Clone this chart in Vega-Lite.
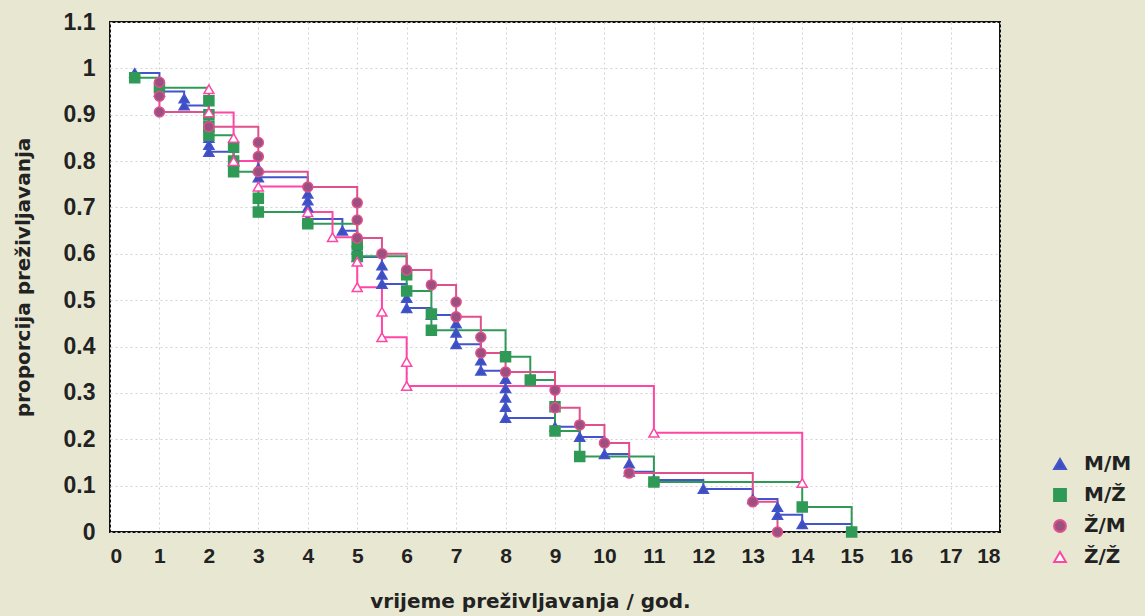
{
  "$schema": "https://vega.github.io/schema/vega-lite/v6.json",
  "width": 890,
  "height": 510,
  "autosize": "none",
  "padding": {"left": 110, "top": 22, "right": 145, "bottom": 84},
  "background": "#e8e8d2",
  "config": {
    "view": {"stroke": "#111111", "strokeWidth": 2, "fill": "#ffffff"},
    "font": "Liberation Sans",
    "axis": {
      "labelFont": "Liberation Sans",
      "labelFontWeight": "bold",
      "labelFontSize": 21,
      "labelColor": "#222222",
      "titleFont": "DejaVu Sans",
      "titleFontWeight": "bold",
      "titleFontSize": 20,
      "titleColor": "#222222",
      "domain": false,
      "ticks": false,
      "gridColor": "#d2d2d2",
      "gridDash": [2, 3],
      "gridWidth": 1
    },
    "legend": {
      "labelFont": "DejaVu Sans",
      "labelFontWeight": "bold",
      "labelFontSize": 20,
      "labelColor": "#222222"
    }
  },
  "data": {
    "values": [
      {"g": "M/M", "t": 0.5, "s": 0.99, "e": 1, "i": 1},
      {"g": "M/M", "t": 1, "s": 0.95, "e": 1, "i": 2},
      {"g": "M/M", "t": 1.5, "s": 0.935, "e": 1, "i": 3},
      {"g": "M/M", "t": 1.5, "s": 0.92, "e": 1, "i": 4},
      {"g": "M/M", "t": 2, "s": 0.85, "e": 1, "i": 5},
      {"g": "M/M", "t": 2, "s": 0.835, "e": 1, "i": 6},
      {"g": "M/M", "t": 2, "s": 0.82, "e": 1, "i": 7},
      {"g": "M/M", "t": 2.5, "s": 0.8, "e": 1, "i": 8},
      {"g": "M/M", "t": 3, "s": 0.785, "e": 1, "i": 9},
      {"g": "M/M", "t": 3, "s": 0.765, "e": 1, "i": 10},
      {"g": "M/M", "t": 4, "s": 0.73, "e": 1, "i": 11},
      {"g": "M/M", "t": 4, "s": 0.715, "e": 1, "i": 12},
      {"g": "M/M", "t": 4, "s": 0.7, "e": 1, "i": 13},
      {"g": "M/M", "t": 4, "s": 0.675, "e": 1, "i": 14},
      {"g": "M/M", "t": 4.7, "s": 0.65, "e": 1, "i": 15},
      {"g": "M/M", "t": 5, "s": 0.625, "e": 1, "i": 16},
      {"g": "M/M", "t": 5, "s": 0.61, "e": 1, "i": 17},
      {"g": "M/M", "t": 5, "s": 0.593, "e": 1, "i": 18},
      {"g": "M/M", "t": 5.5, "s": 0.575, "e": 1, "i": 19},
      {"g": "M/M", "t": 5.5, "s": 0.555, "e": 1, "i": 20},
      {"g": "M/M", "t": 5.5, "s": 0.535, "e": 1, "i": 21},
      {"g": "M/M", "t": 6, "s": 0.505, "e": 1, "i": 22},
      {"g": "M/M", "t": 6, "s": 0.483, "e": 1, "i": 23},
      {"g": "M/M", "t": 6.5, "s": 0.468, "e": 1, "i": 24},
      {"g": "M/M", "t": 7, "s": 0.45, "e": 1, "i": 25},
      {"g": "M/M", "t": 7, "s": 0.43, "e": 1, "i": 26},
      {"g": "M/M", "t": 7, "s": 0.405, "e": 1, "i": 27},
      {"g": "M/M", "t": 7.5, "s": 0.37, "e": 1, "i": 28},
      {"g": "M/M", "t": 7.5, "s": 0.348, "e": 1, "i": 29},
      {"g": "M/M", "t": 8, "s": 0.33, "e": 1, "i": 30},
      {"g": "M/M", "t": 8, "s": 0.31, "e": 1, "i": 31},
      {"g": "M/M", "t": 8, "s": 0.29, "e": 1, "i": 32},
      {"g": "M/M", "t": 8, "s": 0.27, "e": 1, "i": 33},
      {"g": "M/M", "t": 8, "s": 0.246, "e": 1, "i": 34},
      {"g": "M/M", "t": 9, "s": 0.227, "e": 1, "i": 35},
      {"g": "M/M", "t": 9.5, "s": 0.205, "e": 1, "i": 36},
      {"g": "M/M", "t": 10, "s": 0.168, "e": 1, "i": 37},
      {"g": "M/M", "t": 10.5, "s": 0.148, "e": 1, "i": 38},
      {"g": "M/M", "t": 10.5, "s": 0.13, "e": 1, "i": 39},
      {"g": "M/M", "t": 11, "s": 0.112, "e": 1, "i": 40},
      {"g": "M/M", "t": 12, "s": 0.093, "e": 1, "i": 41},
      {"g": "M/M", "t": 13, "s": 0.071, "e": 1, "i": 42},
      {"g": "M/M", "t": 13.5, "s": 0.054, "e": 1, "i": 43},
      {"g": "M/M", "t": 13.5, "s": 0.037, "e": 1, "i": 44},
      {"g": "M/M", "t": 14, "s": 0.017, "e": 1, "i": 45},
      {"g": "M/M", "t": 15, "s": 0.017, "e": 0, "i": 46},
      {"g": "M/Ž", "t": 0.5, "s": 0.98, "e": 1, "i": 101},
      {"g": "M/Ž", "t": 1, "s": 0.958, "e": 1, "i": 102},
      {"g": "M/Ž", "t": 2, "s": 0.93, "e": 1, "i": 103},
      {"g": "M/Ž", "t": 2, "s": 0.9, "e": 1, "i": 104},
      {"g": "M/Ž", "t": 2, "s": 0.875, "e": 1, "i": 105},
      {"g": "M/Ž", "t": 2, "s": 0.856, "e": 1, "i": 106},
      {"g": "M/Ž", "t": 2.5, "s": 0.83, "e": 1, "i": 107},
      {"g": "M/Ž", "t": 2.5, "s": 0.8, "e": 1, "i": 108},
      {"g": "M/Ž", "t": 2.5, "s": 0.777, "e": 1, "i": 109},
      {"g": "M/Ž", "t": 3, "s": 0.72, "e": 1, "i": 110},
      {"g": "M/Ž", "t": 3, "s": 0.69, "e": 1, "i": 111},
      {"g": "M/Ž", "t": 4, "s": 0.665, "e": 1, "i": 112},
      {"g": "M/Ž", "t": 5, "s": 0.62, "e": 1, "i": 113},
      {"g": "M/Ž", "t": 5, "s": 0.595, "e": 1, "i": 114},
      {"g": "M/Ž", "t": 6, "s": 0.555, "e": 1, "i": 115},
      {"g": "M/Ž", "t": 6, "s": 0.52, "e": 1, "i": 116},
      {"g": "M/Ž", "t": 6.5, "s": 0.47, "e": 1, "i": 117},
      {"g": "M/Ž", "t": 6.5, "s": 0.435, "e": 1, "i": 118},
      {"g": "M/Ž", "t": 8, "s": 0.378, "e": 1, "i": 119},
      {"g": "M/Ž", "t": 8.5, "s": 0.328, "e": 1, "i": 120},
      {"g": "M/Ž", "t": 9, "s": 0.27, "e": 1, "i": 121},
      {"g": "M/Ž", "t": 9, "s": 0.218, "e": 1, "i": 122},
      {"g": "M/Ž", "t": 9.5, "s": 0.163, "e": 1, "i": 123},
      {"g": "M/Ž", "t": 11, "s": 0.108, "e": 1, "i": 124},
      {"g": "M/Ž", "t": 14, "s": 0.054, "e": 1, "i": 125},
      {"g": "M/Ž", "t": 15, "s": 0.0, "e": 1, "i": 126},
      {"g": "Ž/M", "t": 1, "s": 0.97, "e": 1, "i": 201},
      {"g": "Ž/M", "t": 1, "s": 0.94, "e": 1, "i": 202},
      {"g": "Ž/M", "t": 1, "s": 0.906, "e": 1, "i": 203},
      {"g": "Ž/M", "t": 2, "s": 0.874, "e": 1, "i": 204},
      {"g": "Ž/M", "t": 3, "s": 0.84, "e": 1, "i": 205},
      {"g": "Ž/M", "t": 3, "s": 0.81, "e": 1, "i": 206},
      {"g": "Ž/M", "t": 3, "s": 0.777, "e": 1, "i": 207},
      {"g": "Ž/M", "t": 4, "s": 0.744, "e": 1, "i": 208},
      {"g": "Ž/M", "t": 5, "s": 0.71, "e": 1, "i": 209},
      {"g": "Ž/M", "t": 5, "s": 0.673, "e": 1, "i": 210},
      {"g": "Ž/M", "t": 5, "s": 0.634, "e": 1, "i": 211},
      {"g": "Ž/M", "t": 5.5, "s": 0.6, "e": 1, "i": 212},
      {"g": "Ž/M", "t": 6, "s": 0.565, "e": 1, "i": 213},
      {"g": "Ž/M", "t": 6.5, "s": 0.533, "e": 1, "i": 214},
      {"g": "Ž/M", "t": 7, "s": 0.496, "e": 1, "i": 215},
      {"g": "Ž/M", "t": 7, "s": 0.464, "e": 1, "i": 216},
      {"g": "Ž/M", "t": 7.5, "s": 0.42, "e": 1, "i": 217},
      {"g": "Ž/M", "t": 7.5, "s": 0.386, "e": 1, "i": 218},
      {"g": "Ž/M", "t": 8, "s": 0.345, "e": 1, "i": 219},
      {"g": "Ž/M", "t": 9, "s": 0.306, "e": 1, "i": 220},
      {"g": "Ž/M", "t": 9, "s": 0.268, "e": 1, "i": 221},
      {"g": "Ž/M", "t": 9.5, "s": 0.231, "e": 1, "i": 222},
      {"g": "Ž/M", "t": 10, "s": 0.192, "e": 1, "i": 223},
      {"g": "Ž/M", "t": 10.5, "s": 0.127, "e": 1, "i": 224},
      {"g": "Ž/M", "t": 13, "s": 0.065, "e": 1, "i": 225},
      {"g": "Ž/M", "t": 13.5, "s": 0.0, "e": 1, "i": 226},
      {"g": "Ž/Ž", "t": 2, "s": 0.955, "e": 1, "i": 301},
      {"g": "Ž/Ž", "t": 2, "s": 0.905, "e": 1, "i": 302},
      {"g": "Ž/Ž", "t": 2.5, "s": 0.85, "e": 1, "i": 303},
      {"g": "Ž/Ž", "t": 2.5, "s": 0.8, "e": 1, "i": 304},
      {"g": "Ž/Ž", "t": 3, "s": 0.745, "e": 1, "i": 305},
      {"g": "Ž/Ž", "t": 4, "s": 0.69, "e": 1, "i": 306},
      {"g": "Ž/Ž", "t": 4.5, "s": 0.636, "e": 1, "i": 307},
      {"g": "Ž/Ž", "t": 5, "s": 0.583, "e": 1, "i": 308},
      {"g": "Ž/Ž", "t": 5, "s": 0.528, "e": 1, "i": 309},
      {"g": "Ž/Ž", "t": 5.5, "s": 0.475, "e": 1, "i": 310},
      {"g": "Ž/Ž", "t": 5.5, "s": 0.42, "e": 1, "i": 311},
      {"g": "Ž/Ž", "t": 6, "s": 0.367, "e": 1, "i": 312},
      {"g": "Ž/Ž", "t": 6, "s": 0.315, "e": 1, "i": 313},
      {"g": "Ž/Ž", "t": 11, "s": 0.214, "e": 1, "i": 314},
      {"g": "Ž/Ž", "t": 14, "s": 0.106, "e": 1, "i": 315}
    ]
  },
  "encoding": {
    "x": {
      "field": "t", "type": "quantitative",
      "scale": {"domain": [0, 18], "nice": false, "zero": false},
      "axis": {
        "values": [0,1,2,3,4,5,6,7,8,9,10,11,12,13,14,15,16,17,18],
        "title": "vrijeme preživljavanja / god.",
        "labelPadding": 13,
        "titlePadding": 25,
        "titleX": 420,
        "titleAlign": "center",
        "grid": true
      }
    },
    "y": {
      "field": "s", "type": "quantitative",
      "scale": {"domain": [0, 1.1], "nice": false},
      "axis": {
        "values": [0,0.1,0.2,0.3,0.4,0.5,0.6,0.7,0.8,0.9,1,1.1],
        "format": "~g",
        "title": "proporcija preživljavanja",
        "labelFontSize": 23,
        "labelPadding": 15,
        "titlePadding": 30,
        "grid": true
      }
    }
  },
  "layer": [
    {
      "mark": {"type": "line", "interpolate": "step-after", "strokeWidth": 2},
      "encoding": {
        "stroke": {
          "field": "g", "type": "nominal",
          "scale": {"domain": ["M/M", "M/Ž", "Ž/M", "Ž/Ž"], "range": ["#4354cc", "#2f9a55", "#e0508c", "#ff45a5"]},
          "legend": {"title": null, "orient": "none", "legendX": 940, "legendY": 432, "rowPadding": 11, "symbolSize": 140, "symbolStrokeWidth": 2, "labelOffset": 14}
        },
        "order": {"field": "i", "type": "quantitative"}
      }
    },
    {
      "transform": [{"filter": "datum.e == 1"}],
      "mark": {"type": "point", "filled": true, "size": 100, "strokeWidth": 1.5, "opacity": 1},
      "encoding": {
        "stroke": {"field": "g", "type": "nominal"},
        "fill": {
          "field": "g", "type": "nominal",
          "scale": {"domain": ["M/M", "M/Ž", "Ž/M", "Ž/Ž"], "range": ["#3d4fbd", "#2f9a55", "#9c5080", "#ffffff"]},
          "legend": {"title": null, "orient": "none", "legendX": 940, "legendY": 432, "rowPadding": 11, "symbolSize": 140, "symbolStrokeWidth": 2, "labelOffset": 14}
        },
        "shape": {
          "field": "g", "type": "nominal",
          "scale": {"domain": ["M/M", "M/Ž", "Ž/M", "Ž/Ž"], "range": ["triangle-up", "square", "circle", "triangle-up"]},
          "legend": {"title": null, "orient": "none", "legendX": 940, "legendY": 432, "rowPadding": 11, "symbolSize": 140, "symbolStrokeWidth": 2, "labelOffset": 14}
        }
      }
    }
  ]
}
